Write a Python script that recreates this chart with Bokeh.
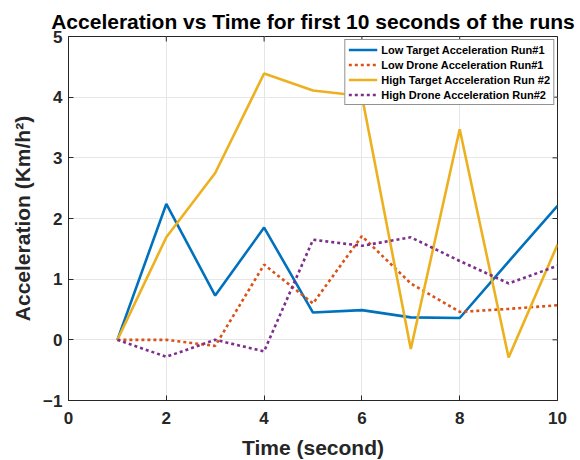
import math
from bokeh.plotting import figure
from bokeh.models import FixedTicker, Range1d, Legend, LegendItem
from bokeh.embed import file_html
from bokeh.resources import INLINE

time_s = [1, 2, 3, 4, 5, 6, 7, 8, 9, 10]
low_target = [0, 2.24, 0.73, 1.85, 0.45, 0.49, 0.37, 0.36, 1.29, 2.21]
low_drone = [0, 0.0, -0.10, 1.24, 0.60, 1.71, 0.93, 0.46, 0.51, 0.57]
high_target = [0, 1.69, 2.75, 4.39, 4.11, 4.02, -0.15, 3.47, -0.29, 1.57]
high_drone = [0, -0.28, 0.0, -0.19, 1.65, 1.55, 1.69, 1.30, 0.93, 1.22]

x_ticks = [0, 2, 4, 6, 8, 10]
y_ticks = [-1, 0, 1, 2, 3, 4, 5]

names = ["Low Target Acceleration Run#1", "Low Drone Acceleration Run#1",
         "High Target Acceleration Run #2", "High Drone Acceleration Run#2"]
colors = ["#0072BD", "#D95319", "#EDB120", "#7E2F8E"]
dashes = ["solid", "3 3", "solid", "3 3"]
series = [low_target, low_drone, high_target, high_drone]

FONT = "Liberation Sans"
DARK = "#262626"

p = figure(width=580, height=460, frame_width=489, frame_height=364,
           min_border_left=68, min_border_right=23, min_border_top=36, min_border_bottom=60,
           output_backend="svg", toolbar_location=None,
           x_range=Range1d(x_ticks[0], x_ticks[-1]), y_range=Range1d(y_ticks[0], y_ticks[-1]))

p.title.text = "Acceleration vs Time for first 10 seconds of the runs"
p.title.align = "center"
p.title.text_font = FONT
p.title.text_font_size = "21px"
p.title.text_font_style = "bold"
p.title.text_color = "#000000"
p.title.standoff = 7

p.grid.grid_line_color = "#e6e6e6"
p.grid.grid_line_width = 1
p.xgrid.ticker = FixedTicker(ticks=x_ticks)
p.ygrid.ticker = FixedTicker(ticks=y_ticks)

# inner ticks on the top and right edges of the box
p.scatter([x_ticks[-1]] * len(y_ticks), y_ticks, marker="dash", size=10,
          line_color=DARK, line_width=1)
p.scatter(x_ticks, [y_ticks[-1]] * len(x_ticks), marker="dash", size=10, angle=math.pi / 2,
          line_color=DARK, line_width=1)

items = []
for s, n, c, d in zip(series, names, colors, dashes):
    r = p.line(time_s, s, line_color=c, line_width=2.6, line_dash=d)
    items.append(LegendItem(label=n, renderers=[r]))

legend = Legend(items=items, location="top_right")
legend.label_text_font = FONT
legend.label_text_font_size = "11px"
legend.label_text_font_style = "bold"
legend.label_text_color = "#000000"
legend.label_height = 13
legend.glyph_height = 13
legend.glyph_width = 29
legend.spacing = 2
legend.padding = 3
legend.margin = 3
legend.label_standoff = 4
legend.border_line_color = DARK
legend.border_line_width = 1
legend.background_fill_alpha = 1
p.add_layout(legend)

p.xaxis.ticker = FixedTicker(ticks=x_ticks)
p.yaxis.ticker = FixedTicker(ticks=y_ticks)
p.xaxis.axis_label = "Time (second)"
p.yaxis.axis_label = "Acceleration (Km/h²)"

for ax in [p.xaxis[0], p.yaxis[0]]:
    ax.axis_label_text_font = FONT
    ax.axis_label_text_font_size = "21px"
    ax.axis_label_text_font_style = "bold"
    ax.axis_label_text_color = DARK
    ax.major_label_text_font = FONT
    ax.major_label_text_font_size = "17px"
    ax.major_label_text_font_style = "bold"
    ax.major_label_text_color = DARK
    ax.axis_line_color = DARK
    ax.major_tick_line_color = DARK
    ax.major_tick_in = 5
    ax.major_tick_out = 0
    ax.minor_tick_line_color = None
p.xaxis.axis_label_standoff = 9
p.yaxis.axis_label_standoff = 6
p.xaxis.major_label_standoff = 11
p.yaxis.major_label_standoff = 6

p.outline_line_color = DARK
p.outline_line_width = 1
p.background_fill_color = "white"
p.border_fill_color = "white"

open("out.html", "w").write(file_html(p, INLINE))
